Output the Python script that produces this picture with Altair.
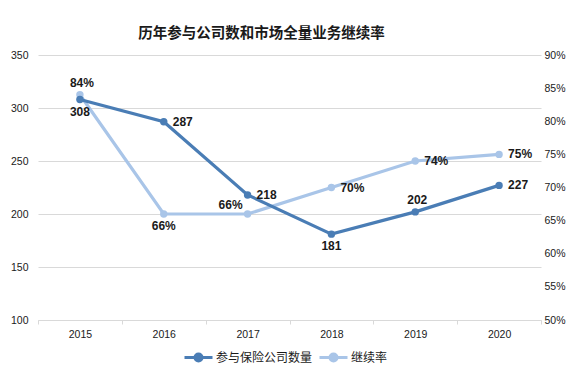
import altair as alt
import pandas as pd

# ---- data ----
years = ["2015", "2016", "2017", "2018", "2019", "2020"]
companies = [308, 287, 218, 181, 202, 227]
rates = [0.84, 0.66, 0.66, 0.70, 0.74, 0.75]

S1 = "参与保险公司数量"
S2 = "继续率"
TITLE = "历年参与公司数和市场全量业务继续率"

# ---- style / layout ----
DARK = "#4a7db5"
LIGHT = "#a9c5e8"
FONT = "Liberation Sans"
CJK = "Noto Sans CJK SC"
TXT = "#1a1a1a"
GRID = "#d9d9d9"

DARK_LABELS = ["below", "right", "right", "below", "above", "right"]
LIGHT_LABELS = ["above", "below", "leftabove", "right", "right", "right"]
OFFSETS = {
    "below": (0, 12, "center"),
    "above": (2, -12, "center"),
    "right": (9, 0, "left"),
    "leftabove": (-17, -9, "center"),
}

df = pd.DataFrame({"year": years, "count": companies, "rate": rates})

x = alt.X(
    "year:N", sort=years, title=None,
    scale=alt.Scale(type="band", paddingInner=0, paddingOuter=0),
    axis=alt.Axis(labelAngle=0, labelFont=FONT, labelFontSize=10.5, labelColor=TXT,
                  labelPadding=5, domainColor=GRID, tickColor=GRID, tickSize=4,
                  tickBand="extent", grid=False),
)

color = alt.Color(
    "series:N",
    scale=alt.Scale(domain=[S1, S2], range=[DARK, LIGHT]),
    legend=alt.Legend(
        title=None, orient="none", legendX=145, legendY=287, direction="horizontal",
        symbolType="M-1,0L1,0M-0.25,0A0.25,0.25,0,1,1,0.25,0A0.25,0.25,0,1,1,-0.25,0Z",
        symbolSize=784, symbolStrokeWidth=3, labelFont=CJK, labelFontSize=12,
        labelColor=TXT, labelOffset=2, columnPadding=0,
    ),
)

y_left = alt.Y(
    "count:Q", title=None,
    scale=alt.Scale(domain=[100, 350], nice=False, zero=False),
    axis=alt.Axis(orient="left", values=[100, 150, 200, 250, 300, 350], grid=True,
                  gridColor=GRID, domain=False, ticks=False, labelFont=FONT,
                  labelFontSize=10.5, labelColor=TXT, labelPadding=10),
)
y_right = alt.Y(
    "rate:Q", title=None,
    scale=alt.Scale(domain=[0.5, 0.9], nice=False, zero=False),
    axis=alt.Axis(orient="right", values=[0.5, 0.55, 0.6, 0.65, 0.7, 0.75, 0.8, 0.85, 0.9],
                  format=".0%", grid=False, domain=False, ticks=False, labelFont=FONT,
                  labelFontSize=10.5, labelColor=TXT, labelPadding=3),
)


def series_layer(name, y, field, fmt, placements):
    base = alt.Chart(df).transform_calculate(series=f"'{name}'")
    line = base.mark_line(strokeWidth=3.2).encode(x=x, y=y, color=color)
    pts = base.mark_point(filled=True, size=55, opacity=1).encode(x=x, y=y, color=color)
    texts = []
    for kind, (dx, dy, align) in OFFSETS.items():
        yrs = [yr for yr, k in zip(years, placements) if k == kind]
        if not yrs:
            continue
        t = (
            alt.Chart(df)
            .transform_filter(alt.FieldOneOfPredicate(field="year", oneOf=yrs))
            .mark_text(dx=dx, dy=dy, align=align, baseline="middle", font=FONT,
                       fontSize=12, fontWeight="bold", color=TXT)
            .encode(x=x, y=y, text=alt.Text(f"{field}:Q", format=fmt))
        )
        texts.append(t)
    return alt.layer(line, pts, *texts)


light = series_layer(S2, y_right, "rate", ".0%", LIGHT_LABELS)
dark = series_layer(S1, y_left, "count", "d", DARK_LABELS)

chart = (
    alt.layer(light, dark)
    .resolve_scale(y="independent")
    .properties(
        width=503, height=265,
        autosize=alt.AutoSizeParams(type="none"),
        padding={"left": 30, "top": 47, "right": 31, "bottom": 50},
        title=alt.TitleParams(TITLE, font=CJK, fontSize=14.5, fontWeight="bold",
                              color=TXT, anchor="middle", dx=-28, offset=9),
        background="white",
    )
    .configure_view(stroke=None)
)

chart.save("out.html", embed_options={"renderer": "svg", "actions": False})
